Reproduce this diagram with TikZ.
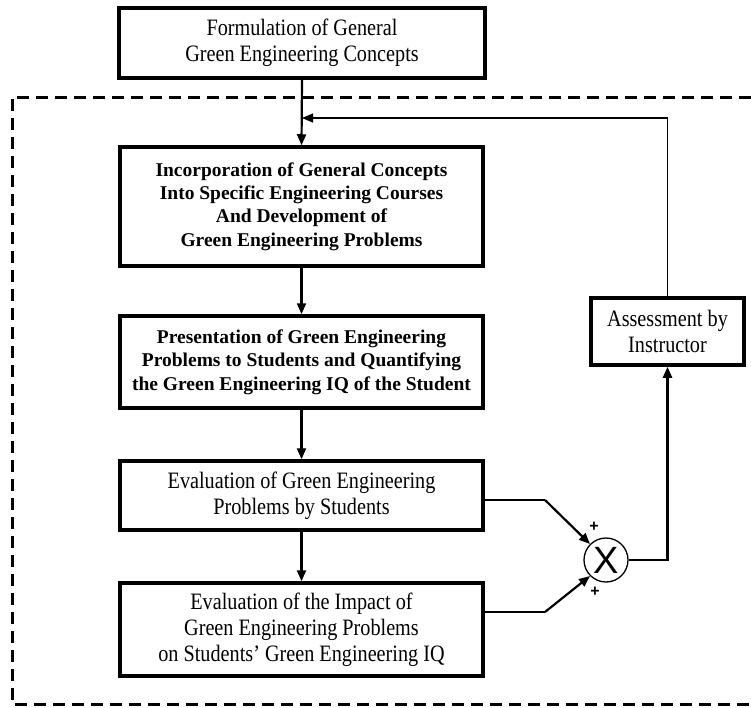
\documentclass[tikz,border=0pt]{standalone}
\usepackage{fontspec}
\setmainfont{Liberation Serif}
\newfontfamily\condserif[FakeStretch=0.86,Ligatures=TeX]{Liberation Serif}
\newfontfamily\arialf{Liberation Sans}
\usetikzlibrary{arrows.meta}
\begin{document}
\begin{tikzpicture}[x=1pt,y=-1pt,
 box/.style={draw, line width=3.5pt, rectangle, align=center, inner sep=0pt, font=\condserif\fontsize{23.5}{25.8}\selectfont},
 boldbox/.style={box, font=\fontsize{19.5}{23.3}\selectfont\bfseries},
 tip/.style={-{Triangle[length=11pt,width=9pt]}},
 arr/.style={line width=2.2pt, tip},
 thinline/.style={line width=1.3pt},
 plus/.style={font=\arialf\bfseries\fontsize{16}{16}\selectfont, inner sep=0pt},
 dashbox/.style={line width=3pt, dash pattern=on 12pt off 7pt}]
\useasboundingbox (0,0) rectangle (751,707);
\fill[white] (0,0) rectangle (751,707);

\draw[dashbox] (751,97) -- (12,97) -- (12,704) -- (751,704);

\node[box, minimum width=366pt, minimum height=70pt] (top) at (302,43)
  {Formulation of General\\Green Engineering Concepts};
\node[boldbox, minimum width=363pt, minimum height=119pt] (b2) at (301.5,206.5)
  {Incorporation of General Concepts\\Into Specific Engineering Courses\\And Development of\\Green Engineering Problems};
\node[boldbox, minimum width=363pt, minimum height=92pt] (b3) at (301.5,362)
  {Presentation of Green Engineering\\Problems to Students and Quantifying\\the Green Engineering IQ of the Student};
\node[box, minimum width=363pt, minimum height=69pt] (b4) at (301.5,495.5)
  {Evaluation of Green Engineering\\Problems by Students};
\node[box, minimum width=363pt, minimum height=93pt] (b5) at (301.5,629.5)
  {Evaluation of the Impact of\\Green Engineering Problems\\on Students’ Green Engineering IQ};
\node[box, minimum width=153pt, minimum height=67pt] (as) at (667.5,331.5)
  {Assessment by\\Instructor};
\node[circle, draw, line width=1.3pt, minimum size=44pt, inner sep=0pt,
  font=\arialf\fontsize{38}{38}\selectfont] (cx) at (606,560) {X};

\draw[arr] (top.south) -- (b2.north);
\draw[arr] (b2.south) -- (b3.north);
\draw[arr] (b3.south) -- (b4.north);
\draw[arr] (b4.south) -- (b5.north);

\coordinate (fb) at (302,118);
\draw[thinline, tip] (as.north) |- (fb);

\coordinate (k4) at (545,500);
\coordinate (k5) at (545,612);
\draw[thinline] (b4.east |- k4) -- (k4);
\draw[arr] (k4) -- (cx.135);
\draw[thinline] (b5.east |- k5) -- (k5);
\draw[arr] (k5) -- (cx.225);
\draw[arr] (cx.east) -| (as.south);

\node[plus] (p1) at (594,527) {+};
\node[plus] (p2) at (595,592) {+};
\end{tikzpicture}
\end{document}
